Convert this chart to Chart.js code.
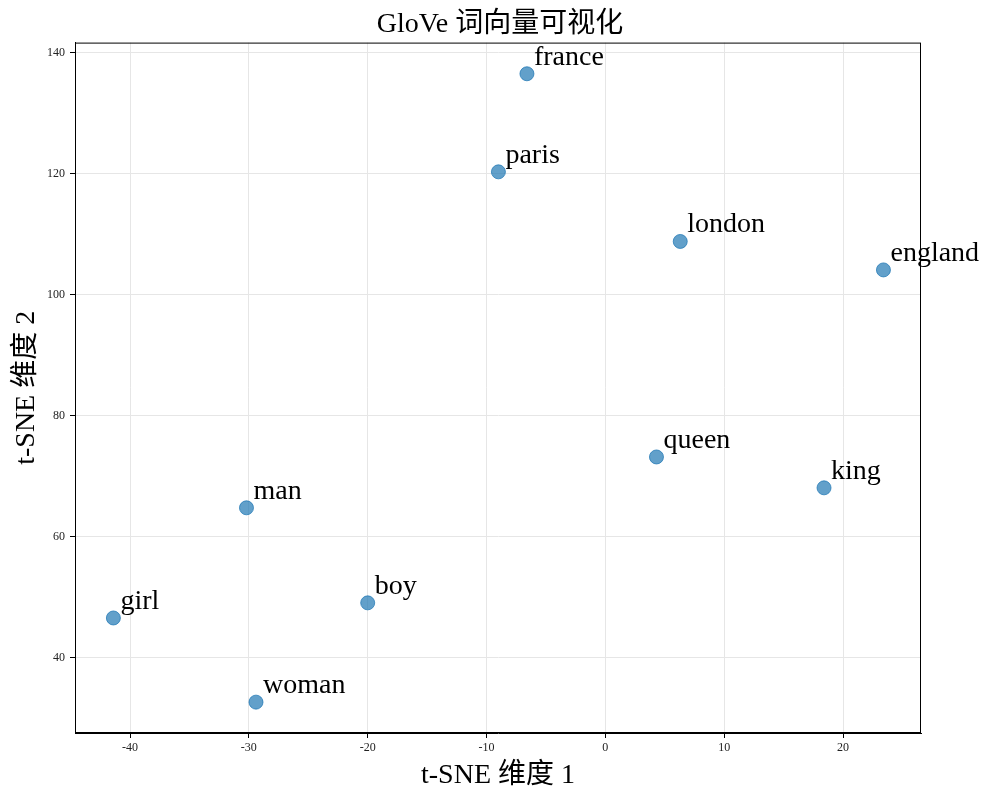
<!DOCTYPE html>
<html>
<head>
<meta charset="utf-8">
<script src="https://cdn.jsdelivr.net/npm/chart.js@4/dist/chart.umd.min.js"></script>
<style>
  html, body { margin: 0; padding: 0; background: #fff; }
  #wrap { width: 1000px; height: 800px; }
</style>
</head>
<body>
<div id="wrap"><canvas id="chart" width="1000" height="800"></canvas></div>
<script>
// --- DATA ---
const words = ['france', 'paris', 'london', 'england', 'queen', 'king', 'man', 'girl', 'boy', 'woman'];
const dim1 = [-6.6, -9.0, 6.3, 23.4, 4.3, 18.4, -30.2, -41.4, -20.0, -29.4];
const dim2 = [136.5, 120.3, 108.8, 104.1, 73.2, 68.1, 64.8, 46.6, 49.1, 32.7];
const xTicks = [-40, -30, -20, -10, 0, 10, 20];
const yTicks = [40, 60, 80, 100, 120, 140];

const serif = '"Liberation Serif", "DejaVu Serif", "Noto Sans CJK SC", serif';

// word labels next to each point
const wordLabels = {
    id: 'wordLabels',
    afterDatasetsDraw(chart) {
        const ctx = chart.ctx;
        const xs = chart.scales.x, ys = chart.scales.y;
        ctx.save();
        ctx.font = '28px ' + serif;
        ctx.fillStyle = '#000';
        ctx.textAlign = 'left';
        ctx.textBaseline = 'alphabetic';
        words.forEach((w, i) => {
            const px = xs.getPixelForValue(dim1[i]);
            const py = ys.getPixelForValue(dim2[i]);
            ctx.fillText(w, px + 7, py - 9);
        });
        ctx.restore();
    }
};

// matplotlib-style box round the plot area
const frameBox = {
    id: 'frameBox',
    afterDraw(chart) {
        const a = chart.chartArea, ctx = chart.ctx;
        ctx.save();
        ctx.strokeStyle = '#000';
        ctx.lineWidth = 1;
        ctx.strokeRect(a.left + 0.5, a.top + 0.5, a.right - a.left - 1, a.bottom - a.top - 1);
        ctx.restore();
    }
};

new Chart(document.getElementById('chart'), {
    type: 'scatter',
    data: {
        datasets: [{
            data: words.map((w, i) => ({ x: dim1[i], y: dim2[i] })),
            backgroundColor: 'rgba(31, 119, 180, 0.7)',
            borderColor: 'rgba(31, 119, 180, 0.75)',
            borderWidth: 1,
            pointRadius: 7,
            pointHoverRadius: 7
        }]
    },
    options: {
        responsive: false,
        animation: false,
        layout: { padding: 0 },
        plugins: {
            legend: { display: false },
            tooltip: { enabled: false },
            title: {
                display: true,
                text: 'GloVe 词向量可视化',
                color: '#000',
                font: { family: serif, size: 28, weight: 'normal' },
                padding: { top: 8, bottom: 1 }
            }
        },
        scales: {
            x: {
                type: 'linear',
                min: -44.63,
                max: 26.56,
                afterBuildTicks: s => { s.ticks = xTicks.map(v => ({ value: v })); },
                afterFit: s => { s.height = 67; },
                ticks: { color: '#222', font: { family: serif, size: 12 }, padding: 3 },
                grid: { color: '#e6e6e6', tickColor: '#000', tickLength: 5 },
                border: { color: '#000' },
                title: {
                    display: true,
                    text: 't-SNE 维度 1',
                    color: '#000',
                    font: { family: serif, size: 28 },
                    padding: { top: 8, bottom: 8 }
                }
            },
            y: {
                type: 'linear',
                min: 27.6,
                max: 141.65,
                afterBuildTicks: s => { s.ticks = yTicks.map(v => ({ value: v })); },
                afterFit: s => { s.width = 75; },
                ticks: { color: '#222', font: { family: serif, size: 12 }, padding: 5 },
                grid: { color: '#e6e6e6', tickColor: '#000', tickLength: 5 },
                border: { color: '#000' },
                title: {
                    display: true,
                    text: 't-SNE 维度 2',
                    color: '#000',
                    font: { family: serif, size: 28 },
                    padding: { top: 10, bottom: 0 }
                }
            },
            // empty right-hand axis, only to leave the margin on the right
            yRight: {
                type: 'linear',
                position: 'right',
                afterFit: s => { s.width = 79; },
                ticks: { display: false },
                grid: { display: false },
                border: { display: false }
            }
        }
    },
    plugins: [wordLabels, frameBox]
});
</script>
</body>
</html>
